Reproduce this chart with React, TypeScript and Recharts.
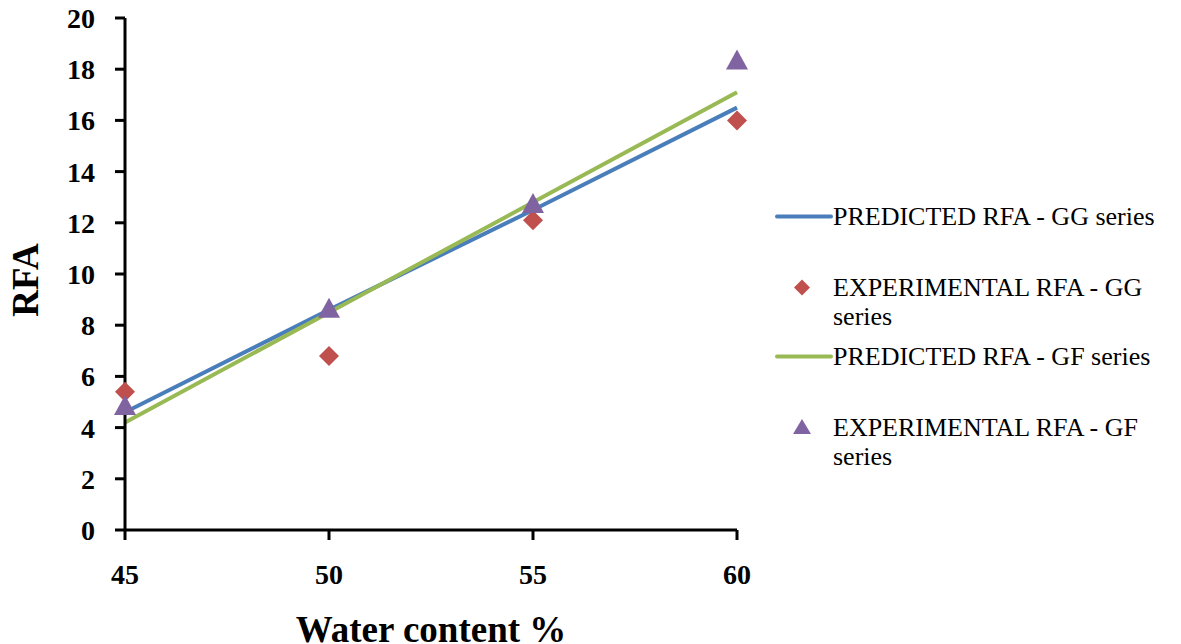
import React from 'react';
import {
  ComposedChart,
  Line,
  Scatter,
  XAxis,
  YAxis,
  Legend,
} from 'recharts';

const waterContent = [45, 50, 55, 60];
const predictedGG = [4.6, 8.6, 12.5, 16.5];
const experimentalGG = [5.4, 6.8, 12.1, 16.0];
const predictedGF = [4.2, 8.5, 12.8, 17.1];
const experimentalGF = [4.8, 8.6, 12.7, 18.3];
const xTicks = [45, 50, 55, 60];
const yTicks = [0, 2, 4, 6, 8, 10, 12, 14, 16, 18, 20];

const seriesNames = {
  predGG: 'PREDICTED RFA - GG series',
  expGG: ['EXPERIMENTAL RFA - GG', 'series'],
  predGF: 'PREDICTED RFA - GF series',
  expGF: ['EXPERIMENTAL RFA - GF', 'series'],
};

const BLUE = '#4A7EBB';
const RED = '#C0504D';
const GREEN = '#98B954';
const PURPLE = '#8064A2';
const FONT = '"Liberation Serif", "Times New Roman", serif';
const LEGEND_WIDTH = 406;

const data = waterContent.map((x, i) => ({
  x,
  predGG: predictedGG[i],
  expGG: experimentalGG[i],
  predGF: predictedGF[i],
  expGF: experimentalGF[i],
}));

const Diamond = (props: any) => {
  const { cx, cy } = props;
  const r = 10;
  return (
    <polygon
      points={`${cx},${cy - r} ${cx + r},${cy} ${cx},${cy + r} ${cx - r},${cy}`}
      fill={RED}
    />
  );
};

const Triangle = (props: any) => {
  const { cx, cy } = props;
  return (
    <polygon
      points={`${cx},${cy - 12} ${cx + 11},${cy + 8} ${cx - 11},${cy + 8}`}
      fill={PURPLE}
    />
  );
};

const LegendBox = () => {
  const lineIcon = (color: string) => (
    <svg width={58} height={29} style={{ flex: 'none' }}>
      <line x1={2} y1={14.5} x2={56} y2={14.5} stroke={color} strokeWidth={4} strokeLinecap="round" />
    </svg>
  );
  const diamondIcon = (
    <svg width={58} height={29} style={{ flex: 'none' }}>
      <polygon points="27,6.5 35,14.5 27,22.5 19,14.5" fill={RED} />
    </svg>
  );
  const triangleIcon = (
    <svg width={58} height={29} style={{ flex: 'none' }}>
      <polygon points="27,6 36,21 18,21" fill={PURPLE} />
    </svg>
  );
  const textStyle: React.CSSProperties = {
    fontFamily: FONT,
    fontSize: 26,
    lineHeight: '29px',
    whiteSpace: 'nowrap',
    color: '#000',
  };
  const items = [
    { icon: lineIcon(BLUE), lines: [seriesNames.predGG], mt: 0 },
    { icon: diamondIcon, lines: seriesNames.expGG, mt: 42 },
    { icon: lineIcon(GREEN), lines: [seriesNames.predGF], mt: 11 },
    { icon: triangleIcon, lines: seriesNames.expGF, mt: 42 },
  ];
  return (
    <div>
      {items.map((it, i) => (
        <div key={i} style={{ display: 'flex', alignItems: 'flex-start', marginTop: it.mt }}>
          {it.icon}
          <div style={textStyle}>
            {it.lines.map((l, j) => (
              <div key={j}>{l}</div>
            ))}
          </div>
        </div>
      ))}
    </div>
  );
};

const tickStyle = { fontFamily: FONT, fontSize: 28, fontWeight: 700, fill: '#000' };

export default function App() {
  return (
    <div style={{ position: 'absolute', left: 0, top: 0, background: '#fff' }}>
      <ComposedChart
        width={1181}
        height={644}
        data={data}
        margin={{ top: 18, right: 444 - LEGEND_WIDTH, bottom: 0, left: 40 }}
      >
        <XAxis
          dataKey="x"
          type="number"
          domain={[45, 60]}
          ticks={xTicks}
          axisLine={{ stroke: '#000', strokeWidth: 3 }}
          tickLine={{ stroke: '#000', strokeWidth: 3 }}
          tickSize={10}
          tickMargin={24}
          tick={tickStyle}
          height={114}
          label={{
            content: (p: any) => {
              const vb = p.viewBox;
              return (
                <text
                  x={vb.x + vb.width / 2}
                  y={vb.y + 112}
                  textAnchor="middle"
                  style={{ fontFamily: FONT, fontSize: 37, fontWeight: 700 }}
                >
                  Water content %
                </text>
              );
            },
          }}
        />
        <YAxis
          type="number"
          domain={[0, 20]}
          ticks={yTicks}
          interval={0}
          axisLine={{ stroke: '#000', strokeWidth: 3 }}
          tickLine={{ stroke: '#000', strokeWidth: 3 }}
          tickSize={10}
          tickMargin={20}
          tick={tickStyle}
          width={85}
          label={{
            content: (p: any) => {
              const vb = p.viewBox;
              const x = vb.x - 15;
              const y = vb.y + vb.height / 2 + 6;
              return (
                <text
                  x={x}
                  y={y}
                  transform={`rotate(-90 ${x} ${y})`}
                  textAnchor="middle"
                  dominantBaseline="central"
                  style={{ fontFamily: FONT, fontSize: 37, fontWeight: 700 }}
                >
                  RFA
                </text>
              );
            },
          }}
        />
        <Legend
          layout="vertical"
          verticalAlign="middle"
          align="right"
          content={() => <LegendBox />}
          wrapperStyle={{ left: 775, top: 202, width: LEGEND_WIDTH }}
        />
        <Line
          type="linear"
          dataKey="predGG"
          name={seriesNames.predGG}
          stroke={BLUE}
          strokeWidth={4}
          dot={false}
          isAnimationActive={false}
        />
        <Scatter dataKey="expGG" shape={<Diamond />} isAnimationActive={false} />
        <Line
          type="linear"
          dataKey="predGF"
          name={seriesNames.predGF}
          stroke={GREEN}
          strokeWidth={4}
          dot={false}
          isAnimationActive={false}
        />
        <Scatter dataKey="expGF" shape={<Triangle />} isAnimationActive={false} />
      </ComposedChart>
    </div>
  );
}
